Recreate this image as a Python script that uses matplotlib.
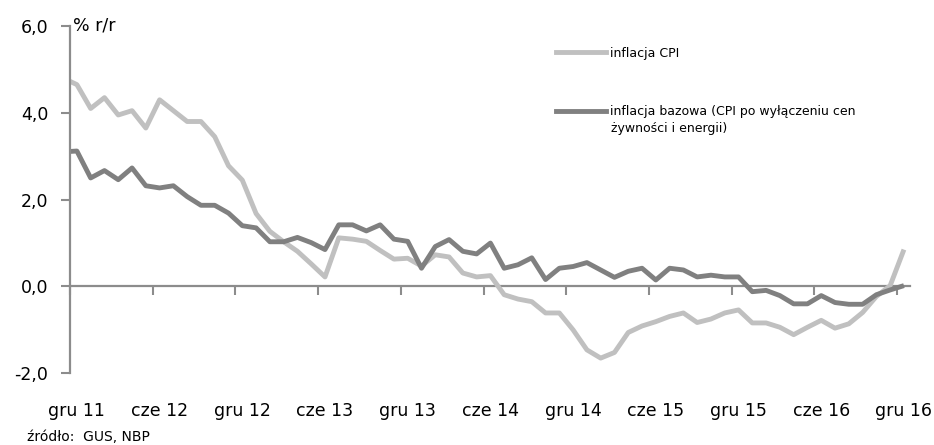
import matplotlib.pyplot as plt
from matplotlib.ticker import FuncFormatter
from matplotlib.lines import Line2D

# miesiace od lis 11 do gru 16 (pierwszy punkt wychodzi poza os)
months = ['lis 11', 'gru 11',
          'sty 12', 'lut 12', 'mar 12', 'kwi 12', 'maj 12', 'cze 12',
          'lip 12', 'sie 12', 'wrz 12', 'paz 12', 'lis 12', 'gru 12',
          'sty 13', 'lut 13', 'mar 13', 'kwi 13', 'maj 13', 'cze 13',
          'lip 13', 'sie 13', 'wrz 13', 'paz 13', 'lis 13', 'gru 13',
          'sty 14', 'lut 14', 'mar 14', 'kwi 14', 'maj 14', 'cze 14',
          'lip 14', 'sie 14', 'wrz 14', 'paz 14', 'lis 14', 'gru 14',
          'sty 15', 'lut 15', 'mar 15', 'kwi 15', 'maj 15', 'cze 15',
          'lip 15', 'sie 15', 'wrz 15', 'paz 15', 'lis 15', 'gru 15',
          'sty 16', 'lut 16', 'mar 16', 'kwi 16', 'maj 16', 'cze 16',
          'lip 16', 'sie 16', 'wrz 16', 'paz 16', 'lis 16', 'gru 16']

cpi = [4.8, 4.65,
       4.1, 4.35, 3.95, 4.05, 3.65, 4.3, 4.05, 3.8, 3.8, 3.45, 2.78, 2.45,
       1.68, 1.27, 1.03, 0.81, 0.52, 0.22, 1.12, 1.09, 1.04, 0.83, 0.63, 0.65,
       0.47, 0.73, 0.68, 0.31, 0.22, 0.25, -0.19, -0.29, -0.35, -0.61, -0.61, -1.0,
       -1.46, -1.65, -1.52, -1.06, -0.91, -0.81, -0.69, -0.61, -0.83, -0.75, -0.61, -0.54,
       -0.84, -0.84, -0.94, -1.11, -0.94, -0.78, -0.96, -0.86, -0.60, -0.23, 0.02, 0.85]

core = [3.1, 3.12,
        2.5, 2.67, 2.46, 2.73, 2.32, 2.27, 2.32, 2.07, 1.87, 1.87, 1.69, 1.40,
        1.35, 1.03, 1.03, 1.13, 1.01, 0.85, 1.42, 1.42, 1.28, 1.42, 1.09, 1.04,
        0.42, 0.92, 1.08, 0.81, 0.75, 1.0, 0.42, 0.50, 0.66, 0.16, 0.42, 0.46,
        0.55, 0.38, 0.21, 0.35, 0.42, 0.15, 0.42, 0.38, 0.22, 0.26, 0.22, 0.22,
        -0.12, -0.09, -0.21, -0.40, -0.40, -0.21, -0.37, -0.41, -0.41, -0.19, -0.08, 0.02]

tick_labels = ['gru 11', 'cze 12', 'gru 12', 'cze 13', 'gru 13', 'cze 14',
               'gru 14', 'cze 15', 'gru 15', 'cze 16', 'gru 16']

label_cpi = 'inflacja CPI'
label_core = 'inflacja bazowa (CPI po wyłączeniu cen'
label_core_2 = 'żywności i energii)'

plt.rcParams['font.family'] = ['DejaVu Sans']

LIGHT = '#c0c0c0'
DARK = '#808080'
AXIS = '#8c8c8c'

x = list(range(-1, len(months) - 1))   # gru 11 = 0

fig = plt.figure(figsize=(9.34, 4.45), dpi=100)
ax = fig.add_axes([70 / 934, 1 - 373.3 / 445, 840 / 934, (373.3 - 26) / 445])

ax.plot(x, cpi, color=LIGHT, lw=3.5, solid_joinstyle='round', solid_capstyle='butt')
ax.plot(x, core, color=DARK, lw=3.5, solid_joinstyle='round', solid_capstyle='butt')

ax.set_xlim(-0.5, 60.44)
ax.set_ylim(-2, 6)

# os y
ax.set_yticks([-2, 0, 2, 4, 6])
ax.yaxis.set_major_formatter(FuncFormatter(lambda v, pos: f'{v:.1f}'.replace('.', ',')))
ax.tick_params(axis='y', direction='out', length=6.5, width=1.5, color=AXIS,
               labelsize=12.5, pad=9)
ax.spines['left'].set_color(AXIS)
ax.spines['left'].set_linewidth(1.6)
for s in ['top', 'right', 'bottom']:
    ax.spines[s].set_visible(False)

# podpisy miesiecy na dole
label_pos = [6 * j for j in range(len(tick_labels))]
ax.set_xticks(label_pos)
ax.set_xticklabels(tick_labels)
ax.tick_params(axis='x', length=0, labelsize=12.5, pad=21)

# linia zera z kreskami
zero = ax.secondary_xaxis(0.25)
zero.set_xticks([p - 0.5 for p in label_pos])
zero.set_xticklabels([])
zero.tick_params(axis='x', direction='out', length=6.5, width=1.5, color=AXIS)
zero.spines['bottom'].set_color(AXIS)
zero.spines['bottom'].set_linewidth(1.6)

ax.text(0.004, 1.0, '% r/r', transform=ax.transAxes, fontsize=12.5, va='center', ha='left')

handles = [Line2D([], [], color=LIGHT, lw=3.5), Line2D([], [], color=DARK, lw=3.5)]
ax.legend(handles, [label_cpi, label_core], loc='upper left',
          bbox_to_anchor=(556 / 934, 1 - 46.5 / 445), bbox_transform=fig.transFigure,
          frameon=False, fontsize=9, handlelength=4.0, handletextpad=0.3,
          labelspacing=3.65, borderpad=0, borderaxespad=0)
fig.text(611 / 934, 1 - 128.5 / 445, label_core_2, fontsize=9, va='center', ha='left')

fig.text(27 / 934, 1 - 437 / 445, 'źródło:  GUS, NBP', fontsize=10, va='center', ha='left')

fig.savefig('out.png', dpi=100)
